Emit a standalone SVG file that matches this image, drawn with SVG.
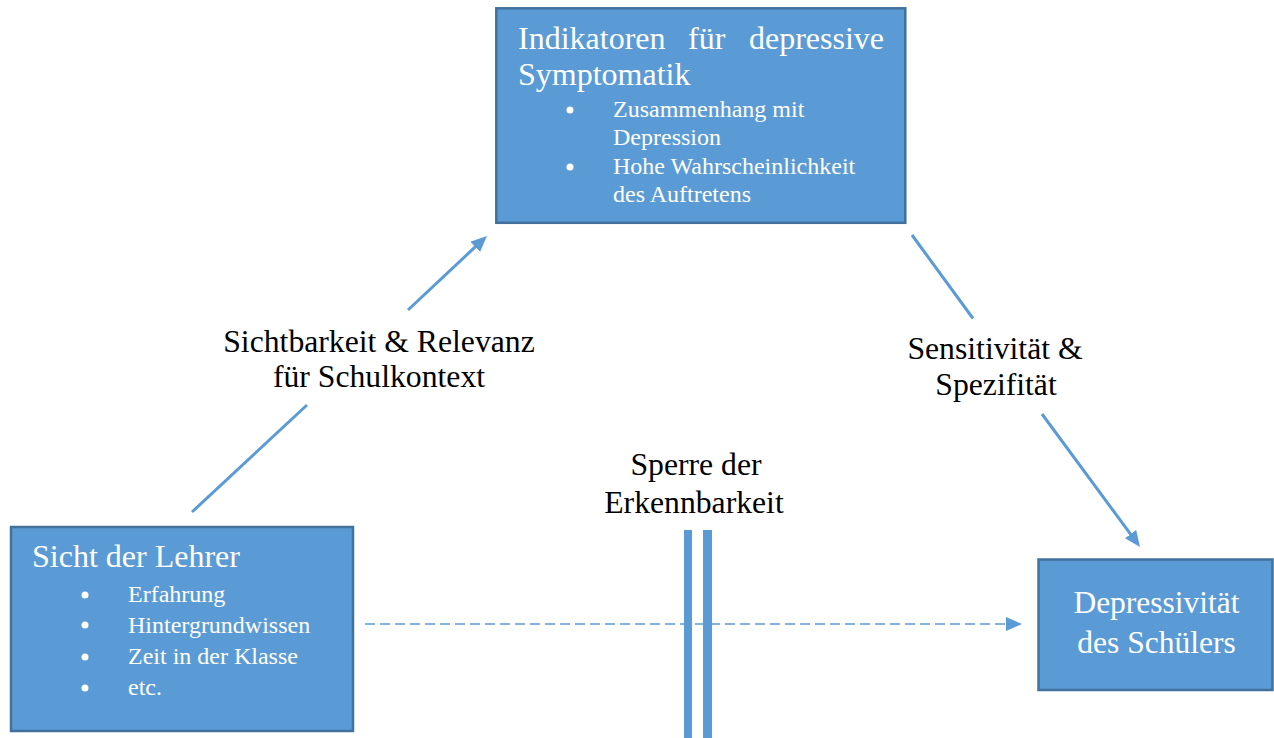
<svg xmlns="http://www.w3.org/2000/svg" width="1274" height="738" viewBox="0 0 1274 738">
<style>
.box{fill:#5B9BD5;stroke:#41719C;stroke-width:2.5}
.wt{fill:#FFFFFF;font-family:"Liberation Serif","Times New Roman",serif}
.bk{fill:#000000;font-family:"Liberation Serif","Times New Roman",serif;font-size:31.7px;text-anchor:middle}
.dot{fill:#FFFFFF}
.conn{stroke:#5B9BD5;stroke-width:3;fill:none}
.dash{stroke:#5B9BD5;stroke-width:1.6;fill:none;stroke-dasharray:10 5}
.bar{fill:#5B9BD5}
</style>
<defs>
<marker id="ah" markerUnits="userSpaceOnUse" markerWidth="17" markerHeight="15" refX="1" refY="7" orient="auto">
<path d="M0,0 L16,7 L0,14 z" fill="#5B9BD5"/>
</marker>
</defs>
<g id="connectors">
<line class="conn" x1="192" y1="512" x2="307" y2="405"/>
<line class="conn" x1="408" y1="310" x2="476" y2="246.2" marker-end="url(#ah)"/>
<line class="conn" x1="912" y1="235" x2="973" y2="318.5"/>
<line class="conn" x1="1042" y1="414" x2="1131.1" y2="534.9" marker-end="url(#ah)"/>
<rect class="bar" x="684" y="530" width="8" height="208"/>
<rect class="bar" x="703" y="530" width="9" height="208"/>
<line class="dash" x1="365" y1="624" x2="1007" y2="624" marker-end="url(#ah)"/>
</g>
<g id="node-indikatoren">
<rect class="box" x="496.3" y="8.3" width="409" height="214.5"/>
<text class="wt" font-size="32" x="518" y="49">Indikatoren</text>
<text class="wt" font-size="32" x="688" y="49">für</text>
<text class="wt" font-size="32" x="884" y="49" text-anchor="end">depressive</text>
<text class="wt" font-size="32" x="518" y="85">Symptomatik</text>
<circle class="dot" cx="570" cy="110" r="3.5"/>
<text class="wt" font-size="24" x="613" y="117">Zusammenhang mit</text>
<text class="wt" font-size="24" x="613" y="145">Depression</text>
<circle class="dot" cx="570" cy="167" r="3.5"/>
<text class="wt" font-size="24" x="613" y="174">Hohe Wahrscheinlichkeit</text>
<text class="wt" font-size="24" x="613" y="202">des Auftretens</text>
</g>
<g id="node-lehrer">
<rect class="box" x="11" y="527" width="342" height="204"/>
<text class="wt" font-size="32" x="32" y="567">Sicht der Lehrer</text>
<circle class="dot" cx="85" cy="595" r="3.5"/>
<text class="wt" font-size="24" x="128" y="601.5">Erfahrung</text>
<circle class="dot" cx="85" cy="625" r="3.5"/>
<text class="wt" font-size="24" x="128" y="633">Hintergrundwissen</text>
<circle class="dot" cx="85" cy="657" r="3.5"/>
<text class="wt" font-size="24" x="128" y="663.5">Zeit in der Klasse</text>
<circle class="dot" cx="85" cy="688" r="3.5"/>
<text class="wt" font-size="24" x="128" y="695">etc.</text>
</g>
<g id="node-schueler">
<rect class="box" x="1038.5" y="559.5" width="234" height="130.5"/>
<text class="wt" font-size="31.5" x="1156.5" y="613" text-anchor="middle">Depressivität</text>
<text class="wt" font-size="31.5" x="1156.5" y="653" text-anchor="middle">des Schülers</text>
</g>
<g id="label-sichtbarkeit">
<text class="bk" x="379" y="352">Sichtbarkeit &amp; Relevanz</text>
<text class="bk" x="379" y="387">für Schulkontext</text>
</g>
<g id="label-sensitivitaet">
<text class="bk" x="995" y="359">Sensitivität &amp;</text>
<text class="bk" x="996" y="395">Spezifität</text>
</g>
<g id="label-sperre">
<text class="bk" x="696" y="475">Sperre der</text>
<text class="bk" x="694" y="513">Erkennbarkeit</text>
</g>
</svg>
